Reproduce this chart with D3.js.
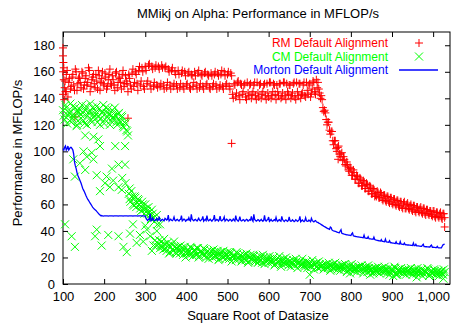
<!DOCTYPE html>
<meta charset="utf-8">
<style>
body { margin: 0; background: #fff; }
svg { display: block; }
text { font-family: "Liberation Sans", Arial, sans-serif; font-size: 13px; fill: #000; }
.axis path { display: none; }
.axis line { stroke: #000; stroke-width: 1px; }
.frame { fill: none; stroke: #000; stroke-width: 1px; }
.rm { fill: none; stroke: #ff0000; stroke-width: 1px; }
.cm { fill: none; stroke: #00ff00; stroke-width: 1px; }
.morton { fill: none; stroke: #0000ff; stroke-width: 1.3px; }
.legend text { font-size: 12px; }
</style>
<body>
<svg id="svg" width="451" height="329"></svg>
<script src="https://cdnjs.cloudflare.com/ajax/libs/d3/7.8.5/d3.min.js"></script>
<script>

// square root of datasize, two interleaved sets of runs
var sizes = [
  100,104,108,112,116,120,124,128,132,136,
  140,144,148,152,156,160,164,168,172,176,
  180,184,188,192,196,200,204,208,212,216,
  220,224,228,232,236,240,244,248,252,256,
  260,264,268,272,276,280,284,288,292,296,
  300,304,308,312,316,320,324,328,332,336,
  340,344,348,352,356,360,364,368,372,376,
  380,384,388,392,396,400,404,408,412,416,
  420,424,428,432,436,440,444,448,452,456,
  460,464,468,472,476,480,484,488,492,496,
  500,504,508,512,516,520,524,528,532,536,
  540,544,548,552,556,560,564,568,572,576,
  580,584,588,592,596,600,604,608,612,616,
  620,624,628,632,636,640,644,648,652,656,
  660,664,668,672,676,680,684,688,692,696,
  700,704,708,712,716,720,724,728,732,736,
  740,744,748,752,756,760,764,768,772,776,
  780,784,788,792,796,800,804,808,812,816,
  820,824,828,832,836,840,844,848,852,856,
  860,864,868,872,876,880,884,888,892,896,
  900,904,908,912,916,920,924,928,932,936,
  940,944,948,952,956,960,964,968,972,976,
  980,984,988,992,996,1000,1004,1008,1012,1016,
  1020,1024,1028
];
var sizesB = [
  102,106,110,114,118,122,126,130,134,138,
  142,146,150,154,158,162,166,170,174,178,
  182,186,190,194,198,202,206,210,214,218,
  222,226,230,234,238,242,246,250,254,258,
  262,266,270,274,278,282,286,290,294,298,
  302,306,310,314,318,322,326,330,334,338,
  342,346,350,354,358,362,366,370,374,378,
  382,386,390,394,398,402,406,410,414,418,
  422,426,430,434,438,442,446,450,454,458,
  462,466,470,474,478,482,486,490,494,498,
  502,506,510,514,518,522,526,530,534,538,
  542,546,550,554,558,562,566,570,574,578,
  582,586,590,594,598,602,606,610,614,618,
  622,626,630,634,638,642,646,650,654,658,
  662,666,670,674,678,682,686,690,694,698,
  702,706,710,714,718,722,726,730,734,738,
  742,746,750,754,758,762,766,770,774,778,
  782,786,790,794,798,802,806,810,814,818,
  822,826,830,834,838,842,846,850,854,858,
  862,866,870,874,878,882,886,890,894,898,
  902,906,910,914,918,922,926,930,934,938,
  942,946,950,954,958,962,966,970,974,978,
  982,986,990,994,998,1002,1006,1010,1014,1018,
  1022,1026
];

// RM Default Alignment
var rm = [
  160,148,158,141,155,149,158,146,160,151,
  156,148,159,150,157,152,161,149,156,151,
  158,147,157,152,160,150,156,149,158,151,
  157,150,159,148,156,152,158,149,157,151,
  158,150,159,149,160,151,161,150,163,149,
  164,151,165,150,164,149,163,150,164,149,
  165,150,163,148,162,150,161,149,160,150,
  161,148,159,149,160,150,159,148,158,149,
  160,150,159,148,158,149,159,150,158,148,
  159,149,158,150,159,148,158,149,160,150,
  158,149,159,143,151,141,152,142,151,143,
  150,141,152,142,151,143,150,142,152,141,
  151,143,150,142,151,141,152,142,151,143,
  150,142,151,141,152,142,151,143,150,142,
  151,141,152,142,151,143,150,142,152,143,
  151,144,153,145,154,152,144,142,133,131,
  124,122,116,115,108,108,102,103,98,98,
  93,94,89,90,85,87,82,84,79,81,
  76,79,74,77,72,75,70,73,68,71,
  67,70,65,69,64,67,63,66,62,65,
  61,64,60,63,59,62,58,61,57,60,
  57,59,56,59,55,58,55,57,54,57,
  53,56,53,55,52,55,51,54,51,53,
  50,53,50
];
var rmB = [
  154,145,161,152,147,156,150,162,146,155,
  152,160,147,155,150,163,145,154,158,148,
  153,161,146,155,151,159,147,154,162,150,
  154,146,160,152,155,147,161,151,153,145,
  155,147,162,152,158,146,164,153,160,147,
  161,153,166,147,162,152,165,148,162,151,
  163,147,164,152,160,147,163,151,158,147,
  158,151,161,147,157,151,160,147,157,152,
  157,147,161,151,157,147,160,151,157,147,
  157,151,160,147,157,150,161,147,157,151,
  160,147,157,140,150,144,153,139,150,145,
  151,139,144,150,140,145,152,139,144,150,
  140,145,151,139,144,152,140,145,150,139,
  145,151,140,144,152,139,145,150,140,144,
  152,139,145,151,140,144,152,141,146,150,
  141,147,152,143,148,147,140,139,130,129,
  120,122,113,115,105,108,100,104,96,99,
  96,90,92,86,88,82,86,79,82,76,
  80,74,78,72,76,70,74,68,72,66,
  66,69,65,68,63,67,62,66,61,65,
  60,64,59,63,58,62,57,62,57,61,
  56,60,55,59,54,58,54,58,53,57,
  52,56,52,55,51,55,50,54,50,54,
  49,53
];
var rmExtra = [
  [100,178],[100,172],[101,167],[102,163],[100,143],[103,139],[105,153],
  [108,145],[129,126],[258,125],[510,106],[769,94],[1028,43]
];

// CM Default Alignment
var cm = [
  131,124,133,127,129,122,134,126,130,123,
  132,125,129,121,134,127,130,124,133,126,
  128,122,132,125,130,121,133,126,128,123,
  131,124,127,120,129,122,126,118,121,115,
  68,62,66,59,65,61,63,57,62,56,
  60,55,58,52,56,50,33,52,30,27,
  32,26,30,25,29,24,30,25,28,23,
  28,23,27,22,28,23,26,22,27,21,
  26,22,27,21,25,22,26,20,25,21,
  25,20,24,21,25,19,24,20,23,19,
  24,19,23,20,22,18,23,19,22,18,
  22,18,21,17,22,18,21,17,20,17,
  21,16,20,17,20,16,19,16,20,15,
  19,16,18,15,19,15,18,14,17,15,
  18,14,17,15,17,14,16,13,17,14,
  16,13,15,14,16,12,15,13,14,12,
  15,12,14,11,15,12,14,11,13,12,
  14,11,13,10,14,11,13,10,12,11,
  13,10,12,10,13,9,12,10,12,9,
  12,9,11,10,12,9,11,8,12,9,
  11,9,12,8,11,9,10,8,11,9,
  11,8,10,9,11,8,10,8,11,8,
  10,8,11,7,10,8,10,7,10,8,
  10,7,9
];
var cmB = [
  127,135,121,129,136,125,128,133,120,130,
  128,135,123,131,120,129,136,122,128,131,
  134,126,120,129,135,124,129,132,120,127,
  126,133,122,128,123,127,119,122,116,112,
  64,70,60,66,58,64,60,55,60,53,
  57,53,54,49,53,47,29,45,33,29,
  28,34,27,31,23,28,26,32,24,27,
  25,29,24,26,20,25,24,28,23,25,
  24,27,20,24,23,27,22,24,19,23,
  22,26,21,23,18,22,21,25,21,22,
  21,24,17,21,20,24,20,21,17,20,
  19,23,16,20,19,22,18,19,16,19,
  18,22,15,18,18,21,17,18,14,18,
  17,21,13,17,16,20,16,17,13,16,
  15,19,12,16,15,19,14,15,12,16,
  14,18,11,15,13,17,13,14,11,14,
  13,16,10,13,12,16,13,13,10,14,
  12,15,9,12,11,15,12,12,9,13,
  11,14,8,12,11,14,10,11,8,12,
  10,13,8,11,10,13,10,10,7,11,
  10,13,7,10,9,12,9,10,7,10,
  9,12,7,10,9,12,9,9,6,10,
  9,12,6,9,8,11,8,9,6,9,
  8,11
];
var cmExtra = [
  [133,119],[154,112],[174,111],[186,109],[190,104],[227,104],[251,104],
  [150,100],[170,99],[158,96],[174,94],[141,91],[125,94],[129,81],[154,86],
  [182,82],[219,87],[235,90],[251,90],[206,81],[222,78],[235,73],[214,73],
  [202,76],[190,70],[243,71],[105,45],[121,36],[129,28],[182,41],[178,36],
  [194,29],[210,37],[235,36],[247,28],[263,38],[279,31],[287,37],[255,24],
  [295,32],[304,41],[312,36],[320,29],[270,45],[300,44],[316,25],[328,40],
  [336,45],[244,80],[252,76],[262,72],
  [700,7],[798,8],[847,7],[903,6],[912,7],[960,5],[1025,4]
];

// Morton Default Alignment
var morton = [
  102,103,101,104,102,103,101,92,87,82,
  79,76,72,69.5,66.5,64,62,60,58,56.5,
  55.5,54,52.6,51.4,51.3,51.3,51.4,51.3,51.3,51.4,
  51.3,51.4,51.3,51.3,51.4,51.3,51.3,51.4,51.3,51.3,
  51.4,51.3,51.3,51.4,51.3,51.3,51.4,51.3,51.4,51.3,
  51.2,48.5,49,53,48.2,48.5,48,49.5,48.3,48,
  48.5,48,49.5,48.2,52,48.3,48,48.6,48.1,48.4,
  48,48.5,51.5,48.2,48.6,47.9,48.3,48.1,52.5,48.2,
  48.4,48,48.5,48.1,48.3,51,48.2,47.9,48.4,48.2,
  48,48.3,52,48.1,48.3,48.5,48,48.2,50.5,48.1,
  48.3,48,48.4,47.9,48.2,51.5,48,48.3,48.1,47.8,
  48.2,48,48.4,47.9,48.1,48.3,52.5,48,47.8,48.2,
  48,47.8,48.1,47.9,48.2,50.5,47.9,47.7,48,47.8,
  47.9,48.1,47.7,51,47.8,47.9,47.6,48,47.8,47.6,
  47.8,47.5,48,47.6,51,47.7,47.5,47.8,47.6,47.4,
  47.6,49.5,47.3,47.5,47,46.4,45.6,44.8,44,43.2,
  42.5,41.8,41.2,42.5,40.3,39.8,39.4,39,38.6,41,
  38,37.6,37.3,37,36.8,36.6,38.5,36.1,35.8,35.6,
  35.4,35.2,35,36.8,34.6,34.4,34.2,34,33.8,35.3,
  33.2,32.9,32.6,32.4,32.2,32,33.8,31.6,31.4,31.2,
  31,30.8,30.6,30.5,30.3,32,30,29.8,29.7,29.5,
  29.4,29.3,29.1,30.8,28.9,28.8,28.7,28.5,28.4,30,
  28.2,28.1,28,27.9,29.3,27.7,27.6,27.5,27.4,27.3,
  27.2,29.5,30
];
var mortonB = [
  101,104,102,101,103,102,98,89,84,80.5,
  77.5,74,70.8,68,65.2,63,61,59,57.2,56,
  54.7,53.3,52,51.6,51.2,51.4,51.3,51.2,51.4,51.3,
  51.2,51.3,51.4,51.2,51.3,51.4,51.2,51.3,51.4,51.2,
  51.3,51.4,51.2,51.3,51.4,51.2,51.3,51.4,51.2,51.3,
  49.5,47.8,48.8,47.6,49.8,47.7,48.6,47.9,50.8,47.6,
  48.8,47.6,49,48.7,47.5,48.9,47.7,50.5,47.6,48.8,
  47.5,48.8,47.6,49,47.4,48.7,50,47.5,48.9,47.6,
  48.8,47.5,49.6,47.6,48.9,47.4,48.8,51.5,47.6,48.8,
  47.4,48.9,47.6,48.7,47.5,51.2,47.6,48.8,47.4,48.9,
  47.5,48.8,47.4,49,47.5,48.7,47.4,50.8,47.5,48.6,
  47.3,48.8,47.4,48.6,51,47.3,48.7,47.4,48.5,47.3,
  48.7,47.3,51.8,47.4,48.6,47.2,48.7,47.3,48.5,50.2,
  47.2,48.5,47.3,48.6,47.1,48.4,47.2,50.6,47.3,48.4,
  47.1,48.5,47.2,48.4,47,48.3,47.1,50,47.2,48.2,
  47,48,46.8,47.8,46.5,45.9,45.2,44.4,43.6,42.9,
  42.1,41.5,43,40.8,40,39.6,39.2,38.8,40,38.2,
  37.8,37.5,37.1,36.9,36.7,37.8,36.3,36,35.7,35.5,
  35.3,35.1,34.9,34.7,34.5,35.6,34.1,33.9,33.7,33.5,
  33,32.8,32.5,33.5,32.1,31.9,31.8,31.5,32.6,31.1,
  30.9,30.7,31.8,30.4,30.2,30.1,29.9,30.9,29.6,29.4,
  29.3,29.2,29,28.9,29.9,28.7,28.6,28.4,29.3,28.2,
  28.1,28,27.9,28.8,27.7,27.6,27.5,28.4,27.3,27.2,
  28.5,29.8
];

var xTicks = [100,200,300,400,500,600,700,800,900,1000];
var yTicks = [0,20,40,60,80,100,120,140,160,180];
var legendNames = ["RM Default Alignment", "CM Default Alignment", "Morton Default Alignment"];

var svg = d3.select("svg"),
    margin = {top: 32, right: 1, bottom: 45, left: 63},
    width = +svg.attr("width") - margin.left - margin.right,
    height = +svg.attr("height") - margin.top - margin.bottom,
    g = svg.append("g").attr("transform", "translate(" + margin.left + "," + margin.top + ")");

var x = d3.scaleLinear().domain([100, 1041]).range([0, width]),
    y = d3.scaleLinear().domain([0, 190]).range([height, 0]);

function pts(xs, vals) {
  return xs.map(function(s, i) { return {x: s, y: vals[i]}; });
}
function extra(list) {
  return list.map(function(p) { return {x: p[0], y: p[1]}; });
}

var plus = "M-4,0H4M0,-4V4",
    cross = "M-4,-4L4,4M-4,4L4,-4";

// axes (ticks inside, mirrored like gnuplot)
g.append("g")
    .attr("class", "axis")
    .attr("transform", "translate(0," + height + ")")
    .call(d3.axisBottom(x).tickValues(xTicks).tickSize(-5).tickSizeOuter(0).tickPadding(8));

g.append("g")
    .attr("class", "axis")
    .call(d3.axisTop(x).tickValues(xTicks).tickSize(-5).tickSizeOuter(0).tickFormat(""));

g.append("g")
    .attr("class", "axis")
    .call(d3.axisLeft(y).tickValues(yTicks).tickSize(-5).tickSizeOuter(0).tickPadding(8));

g.append("g")
    .attr("class", "axis")
    .attr("transform", "translate(" + width + ",0)")
    .call(d3.axisRight(y).tickValues(yTicks).tickSize(-5).tickSizeOuter(0).tickFormat(""));

g.selectAll(".axis text").style("font-size", "13px").style("font-family", '"Liberation Sans", Arial, sans-serif');

g.append("rect")
    .attr("class", "frame")
    .attr("width", width)
    .attr("height", height);

// RM points
g.append("g").selectAll("path")
    .data(pts(sizes, rm).concat(pts(sizesB, rmB), extra(rmExtra)))
  .enter().append("path")
    .attr("class", "rm")
    .attr("d", plus)
    .attr("transform", function(d) { return "translate(" + x(d.x) + "," + y(d.y) + ")"; });

// CM points
g.append("g").selectAll("path")
    .data(pts(sizes, cm).concat(pts(sizesB, cmB), extra(cmExtra)))
  .enter().append("path")
    .attr("class", "cm")
    .attr("d", cross)
    .attr("transform", function(d) { return "translate(" + x(d.x) + "," + y(d.y) + ")"; });

// Morton line
var line = d3.line()
    .x(function(d) { return x(d.x); })
    .y(function(d) { return y(d.y); });

var mortonPts = pts(sizes, morton).concat(pts(sizesB, mortonB))
    .sort(function(a, b) { return a.x - b.x; });

g.append("path")
    .datum(mortonPts)
    .attr("class", "morton")
    .attr("d", line);

// legend
var colors = ["#ff0000", "#00ff00", "#0000ff"];
var rowH = 13.5;
var legend = svg.append("g").attr("class", "legend").attr("transform", "translate(388,43)");

legend.selectAll("text")
    .data(legendNames)
  .enter().append("text")
    .attr("x", 0)
    .attr("y", function(d, i) { return i * rowH; })
    .attr("dy", "0.35em")
    .attr("text-anchor", "end")
    .style("fill", function(d, i) { return colors[i]; })
    .text(function(d) { return d; });

legend.append("path").attr("class", "rm").attr("d", plus).attr("transform", "translate(31,0)");
legend.append("path").attr("class", "cm").attr("d", cross).attr("transform", "translate(31," + rowH + ")");
legend.append("line").attr("class", "morton")
    .attr("x1", 11).attr("x2", 50).attr("y1", 2 * rowH).attr("y2", 2 * rowH);

// titles
svg.append("text")
    .attr("x", 258)
    .attr("y", 18)
    .attr("text-anchor", "middle")
    .text("MMikj on Alpha: Performance in MFLOP/s");

svg.append("text")
    .attr("x", 258)
    .attr("y", 319.5)
    .attr("text-anchor", "middle")
    .text("Square Root of Datasize");

svg.append("text")
    .attr("transform", "translate(22,153) rotate(-90)")
    .attr("text-anchor", "middle")
    .text("Performance in MFLOP/s");

</script>
</body>
